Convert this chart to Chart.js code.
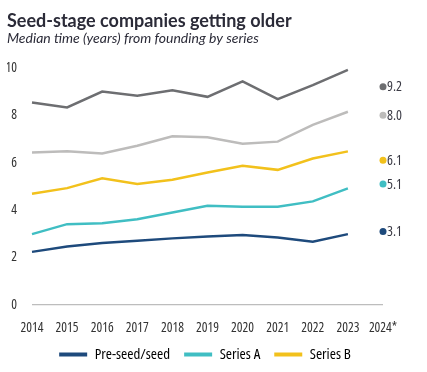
<!DOCTYPE html>
<html>
<head>
<meta charset="utf-8">
<script src="https://cdn.jsdelivr.net/npm/chart.js@4"></script>
<style>
  html, body { margin: 0; padding: 0; background: #fff; }
  #wrap { width: 427px; height: 372px; position: relative; }
</style>
</head>
<body>
<div id="wrap"><canvas id="c" width="427" height="372"></canvas></div>
<script>
const years = ['2014','2015','2016','2017','2018','2019','2020','2021','2022','2023','2024*'];
const top4Series   = [8.54, 8.33, 9.00, 8.83, 9.06, 8.78, 9.43, 8.68, 9.27, 9.92];
const midSeries    = [6.43, 6.48, 6.39, 6.72, 7.12, 7.07, 6.80, 6.89, 7.60, 8.15];
const seriesB      = [4.69, 4.93, 5.34, 5.10, 5.28, 5.59, 5.87, 5.70, 6.18, 6.48];
const seriesA      = [2.99, 3.41, 3.45, 3.62, 3.90, 4.19, 4.14, 4.14, 4.37, 4.92];
const preSeed      = [2.24, 2.47, 2.61, 2.71, 2.81, 2.89, 2.95, 2.85, 2.67, 2.99];
const estimates2024 = [9.2, 8.0, 6.1, 5.1, 3.1];   // dark gray, light gray, B, A, pre-seed
const estimateLabels = ['9.2', '8.0', '6.1', '5.1', '3.1'];
const yTicks = [0, 2, 4, 6, 8, 10];

const COND = "'Open Sans'";
const STRETCH = 'condensed';
const colors = ['#6d6e71', '#bdbcbb', '#f2c11c', '#40bec3', '#1e4a7c'];
const names = ['Later stage', 'Series C', 'Series B', 'Series A', 'Pre-seed/seed'];
const lineSeries = [top4Series, midSeries, seriesB, seriesA, preSeed];

function withNull(arr) { return arr.concat([null]); }
function dotOnly(v) { const a = new Array(years.length).fill(null); a[a.length - 1] = v; return a; }

const datasets = [];
lineSeries.forEach((s, i) => {
  datasets.push({
    label: names[i], data: withNull(s), borderColor: colors[i], backgroundColor: colors[i],
    borderWidth: 2.5, pointRadius: 0, tension: 0, inLegend: i >= 2, order: 5 - i
  });
});
estimates2024.forEach((v, i) => {
  datasets.push({
    label: names[i] + ' 2024', data: dotOnly(v), borderColor: colors[i], backgroundColor: colors[i],
    showLine: false, pointRadius: 3.5, pointBorderWidth: 0, inLegend: false, dotLabel: estimateLabels[i]
  });
});

const dotLabelPlugin = {
  id: 'dotLabels',
  afterLayout(chart) {
    // nudge the legend row slightly right, as in the original
    if (chart.legend) { chart.legend.left += 10; chart.legend.right += 10; }
  },
  afterDatasetsDraw(chart) {
    const ctx = chart.ctx;
    ctx.save();
    ctx.font = STRETCH + " 14px " + COND;
    ctx.textBaseline = 'middle';
    ctx.textAlign = 'left';
    chart.data.datasets.forEach((ds, di) => {
      if (!ds.dotLabel) return;
      const meta = chart.getDatasetMeta(di);
      const pt = meta.data[meta.data.length - 1];
      ctx.fillStyle = '#3a3a44';
      ctx.fillText(ds.dotLabel, pt.x + 4, pt.y + 0.5);
    });
    ctx.restore();
  }
};

new Chart(document.getElementById('c'), {
  type: 'line',
  data: { labels: years, datasets },
  options: {
    responsive: false,
    animation: false,
    layout: { padding: { left: 7, right: 44, top: 6, bottom: 0 } },
    plugins: {
      title: {
        display: true, align: 'start', text: 'Seed-stage companies getting older',
        color: '#2b2b38', font: { family: 'Lato', size: 18, weight: 'bold' },
        padding: { top: 4, bottom: -2 }
      },
      subtitle: {
        display: true, align: 'start', text: 'Median time (years) from founding by series',
        color: '#2b2b38', font: { family: 'Lato', size: 14, style: 'italic' },
        padding: { top: 0, bottom: 21.5 }
      },
      legend: {
        position: 'bottom',
        labels: {
          filter: (item, data) => data.datasets[item.datasetIndex].inLegend,
          sort: (a, b) => b.datasetIndex - a.datasetIndex,
          boxWidth: 28, boxHeight: 4, color: '#333', padding: 14,
          font: { family: COND, size: 15, weight: STRETCH },
          generateLabels(chart) {
            return chart.data.datasets.map((ds, i) => ({
              text: ds.label, fillStyle: ds.borderColor, strokeStyle: ds.borderColor,
              lineWidth: 0, datasetIndex: i, hidden: false
            }));
          }
        }
      },
      tooltip: { enabled: false }
    },
    scales: {
      x: {
        offset: false,
        afterFit: (axis) => { axis.height = 28; },
        grid: { display: false, drawTicks: false },
        border: { display: false },
        ticks: { color: '#333', font: { family: COND, size: 13.5, weight: STRETCH }, padding: 15, maxRotation: 0, autoSkip: false }
      },
      y: {
        min: 0, max: 10,
        afterBuildTicks: (axis) => { axis.ticks = yTicks.map(v => ({ value: v })); },
        afterFit: (axis) => { axis.width = 25; },
        grid: {
          color: (c) => (c.tick && c.tick.value === 0) ? '#bdbdbd' : 'rgba(0,0,0,0)',
          drawTicks: false, lineWidth: 1.2
        },
        border: { display: false },
        ticks: { color: '#333', font: { family: COND, size: 13.5, weight: STRETCH }, padding: 15 }
      }
    }
  },
  plugins: [dotLabelPlugin]
});
</script>
</body>
</html>
